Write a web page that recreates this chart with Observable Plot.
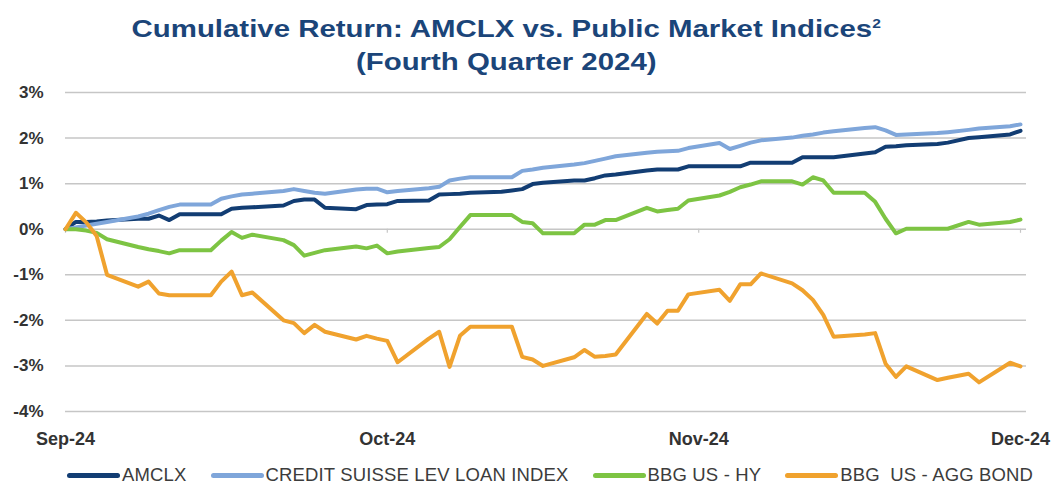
<!DOCTYPE html>
<html>
<head>
<meta charset="utf-8">
<script src="https://cdn.jsdelivr.net/npm/d3@7"></script>
<script src="https://cdn.jsdelivr.net/npm/@observablehq/plot@0.6"></script>
<style>
  html, body { margin: 0; padding: 0; background: #fff; }
  body { width: 1055px; height: 485px; overflow: hidden; font-family: "Liberation Sans", Arial, sans-serif; }
  #title { box-sizing: border-box; height: 80px; padding-top: 12px; width: 1012px; text-align: center;
           font-weight: bold; font-size: 24.5px; line-height: 33px; color: #1B4579; }
  #title span { display: inline-block; transform: scaleX(1.2); transform-origin: 50% 50%; }
  #title sup { font-size: 13px; vertical-align: 9px; line-height: 0; }
  #legend { height: 48px; display: flex; align-items: center; padding-left: 67px; gap: 24px;
            font-size: 18.5px; letter-spacing: 0.15px; color: #3c3c3c; }
  .item { display: flex; align-items: center; white-space: pre; }
  .sw { width: 53px; height: 5px; border-radius: 3px; margin-right: 2px; }
</style>
</head>
<body>
<div id="title"><span>Cumulative Return: AMCLX vs. Public Market Indices<sup>2</sup></span><br><span>(Fourth Quarter 2024)</span></div>
<div id="chart"></div>
<div id="legend"></div>
<script>
const dates = [
  "2024-09-30","2024-10-01","2024-10-02","2024-10-03","2024-10-04",
  "2024-10-07","2024-10-08","2024-10-09","2024-10-10","2024-10-11",
  "2024-10-14","2024-10-15","2024-10-16","2024-10-17","2024-10-18",
  "2024-10-21","2024-10-22","2024-10-23","2024-10-24","2024-10-25",
  "2024-10-28","2024-10-29","2024-10-30","2024-10-31","2024-11-01",
  "2024-11-04","2024-11-05","2024-11-06","2024-11-07","2024-11-08",
  "2024-11-11","2024-11-12","2024-11-13","2024-11-14","2024-11-15",
  "2024-11-18","2024-11-19","2024-11-20","2024-11-21","2024-11-22",
  "2024-11-25","2024-11-26","2024-11-27","2024-11-28","2024-11-29",
  "2024-12-02","2024-12-03","2024-12-04","2024-12-05","2024-12-06",
  "2024-12-09","2024-12-10","2024-12-11","2024-12-12","2024-12-13",
  "2024-12-16","2024-12-17","2024-12-18","2024-12-19","2024-12-20",
  "2024-12-23","2024-12-24","2024-12-26","2024-12-27","2024-12-30","2024-12-31"
];

const amclx = [
  0, 0.16, 0.16, 0.17, 0.19, 0.23, 0.23, 0.30, 0.20, 0.33,
  0.33, 0.33, 0.45, 0.47, 0.48, 0.52, 0.62, 0.65, 0.65, 0.47,
  0.44, 0.53, 0.54, 0.55, 0.62, 0.63, 0.76, 0.77, 0.78, 0.80,
  0.82, 0.85, 0.88, 0.99, 1.02, 1.07, 1.07, 1.12, 1.18, 1.20,
  1.29, 1.31, 1.31, 1.31, 1.38, 1.38, 1.38, 1.38, 1.46, 1.46,
  1.46, 1.58, 1.58, 1.58, 1.58, 1.66, 1.69, 1.81, 1.82, 1.84,
  1.87, 1.90, 2.00, 2.02, 2.08, 2.16
];

const csLevLoan = [
  0, 0.04, 0.08, 0.12, 0.16, 0.28, 0.34, 0.42, 0.49, 0.54,
  0.54, 0.67, 0.72, 0.76, 0.78, 0.84, 0.88, 0.84, 0.80, 0.78,
  0.87, 0.89, 0.89, 0.81, 0.84, 0.90, 0.93, 1.07, 1.11, 1.14,
  1.14, 1.14, 1.28, 1.31, 1.35, 1.42, 1.45, 1.50, 1.55, 1.60,
  1.68, 1.70, 1.71, 1.72, 1.78, 1.89, 1.76, 1.83, 1.90, 1.95,
  2.01, 2.05, 2.08, 2.12, 2.15, 2.22, 2.24, 2.17, 2.07, 2.08,
  2.11, 2.13, 2.18, 2.21, 2.26, 2.30
];

const bbgHY = [
  0, 0.0, -0.03, -0.08, -0.22, -0.39, -0.44, -0.48, -0.53, -0.46,
  -0.46, -0.25, -0.06, -0.19, -0.12, -0.24, -0.35, -0.58, -0.52, -0.46,
  -0.38, -0.42, -0.36, -0.53, -0.49, -0.41, -0.39, -0.22, 0.05, 0.31,
  0.31, 0.31, 0.16, 0.13, -0.09, -0.09, 0.10, 0.10, 0.20, 0.20,
  0.47, 0.39, 0.42, 0.45, 0.63, 0.74, 0.82, 0.92, 0.98, 1.05,
  1.05, 0.98, 1.14, 1.07, 0.80, 0.80, 0.60, 0.23, -0.09, 0.01,
  0.01, 0.01, 0.16, 0.10, 0.16, 0.21
];

const bbgAgg = [
  0, 0.36, 0.15, -0.15, -1.0, -1.26, -1.15, -1.41, -1.45, -1.45,
  -1.45, -1.15, -0.93, -1.45, -1.39, -2.0, -2.06, -2.28, -2.10, -2.25,
  -2.42, -2.34, -2.40, -2.45, -2.92, -2.40, -2.25, -3.02, -2.34, -2.14,
  -2.14, -2.14, -2.80, -2.86, -3.0, -2.81, -2.65, -2.80, -2.78, -2.75,
  -1.86, -2.07, -1.79, -1.79, -1.43, -1.33, -1.57, -1.21, -1.21, -0.97,
  -1.19, -1.34, -1.55, -1.88, -2.36, -2.31, -2.28, -2.95, -3.24, -3.01,
  -3.31, -3.26, -3.17, -3.36, -2.93, -3.01
];

const seriesNames = ["AMCLX", "CREDIT SUISSE LEV LOAN INDEX", "BBG US - HY", "BBG  US - AGG BOND"];
const seriesValues = [amclx, csLevLoan, bbgHY, bbgAgg];
const seriesColors = ["#123D73", "#7FA6DA", "#7DC443", "#F0A22E"];

const tickDates = ["2024-09-30", "2024-10-31", "2024-11-30", "2024-12-31"];
const tickLabels = ["Sep-24", "Oct-24", "Nov-24", "Dec-24"];
const yTicks = [-4, -3, -2, -1, 0, 1, 2, 3];

const parse = s => new Date(s + "T00:00:00Z");
const tickDatesParsed = tickDates.map(parse);

const table = seriesNames.flatMap((name, k) =>
  dates.map((d, i) => ({ series: name, date: parse(d), value: seriesValues[k][i] }))
);

const chart = Plot.plot({
  width: 1055,
  height: 371,
  marginLeft: 65,
  marginRight: 35,
  marginTop: 12,
  marginBottom: 40,
  style: { fontFamily: "Liberation Sans, Arial, sans-serif", color: "#333", background: "#fff" },
  x: { type: "utc", domain: [parse(dates[0]), parse(dates[dates.length - 1])], axis: null },
  y: { domain: [-4, 3], axis: null },
  color: { domain: seriesNames, range: seriesColors },
  marks: [
    Plot.ruleY(yTicks, { stroke: "#c6c6c6", strokeWidth: 1.5, insetRight: -6 }),
    Plot.ruleX(tickDatesParsed, { y1: 0, y2: -0.09, stroke: "#c6c6c6", strokeWidth: 1.2 }),
    Plot.axisX({
      ticks: tickDatesParsed,
      tickFormat: d => tickLabels[tickDatesParsed.findIndex(t => +t === +d)],
      tickSize: 0, tickPadding: 21, fontSize: 18, fontWeight: "bold", label: null
    }),
    Plot.axisY({
      ticks: yTicks, tickFormat: d => `${d}%`,
      tickSize: 0, tickPadding: 22, fontSize: 17, fontWeight: "bold", label: null
    }),
    Plot.line(table, {
      x: "date", y: "value", z: "series", stroke: "series",
      strokeWidth: 4, strokeLinejoin: "round", strokeLinecap: "round"
    })
  ]
});
document.getElementById("chart").appendChild(chart);

const legend = document.getElementById("legend");
seriesNames.forEach((name, k) => {
  const item = document.createElement("div");
  item.className = "item";
  const sw = document.createElement("span");
  sw.className = "sw";
  sw.style.background = seriesColors[k];
  const label = document.createElement("span");
  label.textContent = name;
  item.appendChild(sw);
  item.appendChild(label);
  legend.appendChild(item);
});
</script>
</body>
</html>
